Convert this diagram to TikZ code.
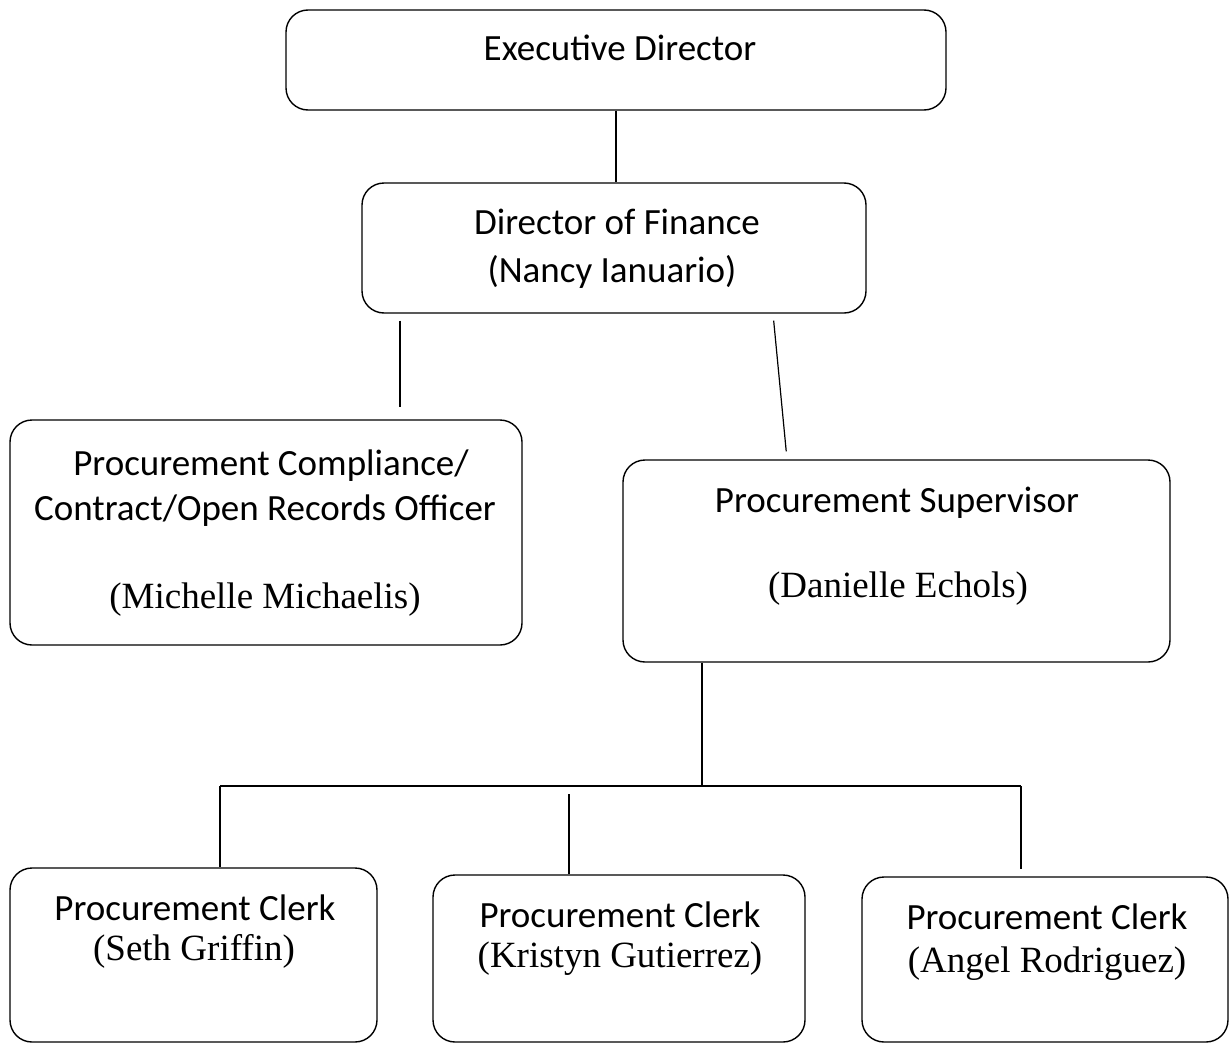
\documentclass[tikz,border=0pt]{standalone}
\usepackage{fontspec}
\setmainfont{Liberation Serif}
\setsansfont{Carlito}
\begin{document}
\begin{tikzpicture}[x=1pt,y=-1pt,
  box/.style={draw, rounded corners=22pt, line width=1.4pt, inner sep=0pt},
  role/.style={anchor=base, inner sep=0pt, font=\fontsize{37}{44}\selectfont\sffamily},
  person/.style={anchor=base, inner sep=0pt, font=\fontsize{37}{44}\selectfont\rmfamily},
  link/.style={line width=1.2pt}]
\useasboundingbox (0,0) rectangle (1232,1044);

% boxes
\node[box, minimum width=660pt, minimum height=100pt] (exec) at (616,60) {};
\node[box, minimum width=504pt, minimum height=130pt] (dof)  at (614,248) {};
\node[box, minimum width=512pt, minimum height=225pt] (comp) at (266,532.5) {};
\node[box, minimum width=547pt, minimum height=202pt] (sup)  at (896.5,561) {};
\node[box, minimum width=367pt, minimum height=174pt] (c1)   at (193.5,955) {};
\node[box, minimum width=372pt, minimum height=167pt] (c2)   at (619,958.5) {};
\node[box, minimum width=366pt, minimum height=165pt] (c3)   at (1045,959.5) {};

% labels
\node[role] (execA) at (620,60) {Executive Director};
\node[role] (dofA) at (617,234) {Director of Finance};
\node[role] (dofB) at (612,282) {(Nancy Ianuario)};
\node[role] (compA) at (271,475) {Procurement Compliance/};
\node[role] (compB) at (265,520) {Contract/Open Records Officer};
\node[person] (compC) at (265,608) {(Michelle Michaelis)};
\node[role] (supA) at (897,512) {Procurement Supervisor};
\node[person] (supB) at (898,597) {(Danielle Echols)};
\node[role] (c1A) at (195,920) {Procurement Clerk};
\node[person] (c1B) at (194,960) {(Seth Griffin)};
\node[role] (c2A) at (620,927) {Procurement Clerk};
\node[person] (c2B) at (620,967) {(Kristyn Gutierrez)};
\node[role] (c3A) at (1047,929) {Procurement Clerk};
\node[person] (c3B) at (1047,972) {(Angel Rodriguez)};

% connectors
\draw[link] (exec.south) -- (exec.south |- dof.north);
\draw[link, shorten <=7pt, shorten >=12pt] (dof.south -| 400,0) -- (comp.north -| 400,0);
\draw[link, shorten <=7pt, shorten >=8pt] (dof.south -| 773,0) -- (sup.north -| 787,0);

\coordinate (bus)  at (702,786);
\coordinate (busL) at (220,786);
\coordinate (busM) at (569,786);
\coordinate (busR) at (1021,786);
\draw[link] (sup.south -| bus) -- (bus);
\draw[link] (busL) -- (busR);
\draw[link] (busL) -- (busL |- c1.north);
\draw[link, shorten <=8pt] (busM) -- (busM |- c2.north);
\draw[link, shorten >=7pt] (busR) -- (busR |- c3.north);
\end{tikzpicture}
\end{document}
